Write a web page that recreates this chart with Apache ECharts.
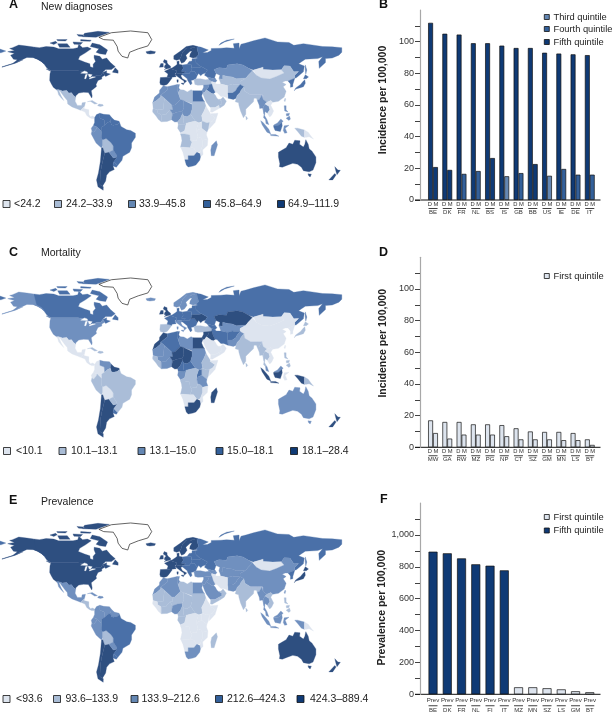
<!DOCTYPE html>
<html><head><meta charset="utf-8">
<style>html,body{margin:0;padding:0;background:#fff}#c{width:613px;height:715px}</style>
<script src="https://cdn.jsdelivr.net/npm/echarts@6/dist/echarts.min.js"></script>
</head><body><div id="c"></div>
<script>
// ---------- bar data ----------
const codesB = ['BE','DK','FR','NL','BS','IS','GB','BB','US','IE','DE','IT'];
const incidenceB = [111.9,105,104.5,99,99,97.5,96,96,93,92.5,92,91.5];
const mortalityB = [20.8,19,16.5,18.3,26.5,15,17,22.7,15.3,19.6,16,16];
const mortalityQuintileB = [5,5,4,4,5,3,4,5,3,4,4,4];
const codesD = ['MW','GA','RW','MZ','PG','NP','CT','SZ','GM','MN','LS','BT'];
const incidenceD = [17,16,16,14.5,14.5,14,12,10,9.7,9.7,9,5];
const mortalityD = [9,5.5,8,8,8,7,5,5,5,4.5,4.5,1.5];
const codesF = ['BE','DK','FR','NL','FI','IT','MZ','MN','SZ','LS','GM','BT'];
const prevalenceF = [895,885,853,816,807,778,44,44,38,31,19,13];
const prevalenceQuintileF = [5,5,5,5,5,5,1,1,1,1,1,1];
// ---------- axis ticks ----------
const ticksIncidence = [0,10,20,30,40,50,60,70,80,90,100,110];
const labelsIncidence = [0,20,40,60,80,100];
const ticksPrevalence = [0,100,200,300,400,500,600,700,800,900,1000,1100];
const labelsPrevalence = [0,200,400,600,800,1000];
// ---------- map legends ----------
const legendA = ['<24.2','24.2–33.9','33.9–45.8','45.8–64.9','64.9–111.9'];
const legendC = ['<10.1','10.1–13.1','13.1–15.0','15.0–18.1','18.1–28.4'];
const legendE = ['<93.6','93.6–133.9','133.9–212.6','212.6–424.3','424.3–889.4'];
// ---------- colours ----------
const mapColors = ['#ffffff','#dde4ef','#aabdd8','#7090bf','#4a70a8','#2e4f80'];
const keyColors = ['#ffffff','#dde4ee','#a9bcd5','#6487b3','#33609a','#0f3a75'];
// ---------- region outlines: [lon, lat] ----------
const regionShapes = {
 Canada:[[[-141,69.6],[-135,69],[-128,70],[-120,69.5],[-115,68],[-108,68],[-100,68],[-95,69],[-94,72],[-90,69],[-85,69.5],[-81,68],[-87,64.5],[-93,61.5],[-94.5,58.8],[-88,56.5],[-82.5,55],[-82,52.5],[-79,51.5],[-79,54.5],[-76.5,57],[-78,60],[-78,62.4],[-72,61.5],[-69.5,59],[-65,60],[-61,56],[-56,52.5],[-60,50],[-66,50],[-70,47],[-65,49],[-65,47],[-61,46],[-66,44],[-67,45],[-69,47.3],[-71,45],[-75,45],[-79,43.5],[-83,42],[-82.5,45.5],[-88,48],[-95,49],[-123,49],[-127,51],[-130,54.5],[-133,57],[-137,59],[-141,60.3]]],
 CanadaArctic:[[[-80,73],[-72,71.5],[-64,67],[-66,63],[-72,63.7],[-76,65],[-73,68],[-82,70]],[[-116,72.5],[-106,72.5],[-103,69.3],[-114,69.3]],[[-124,73],[-118,74.5],[-116.5,73.2],[-120,71.8]],[[-117,76],[-106,76],[-108,74.8],[-116,75]],[[-92,76],[-81,75.5],[-82,74.5],[-92,74.7]],[[-100,74],[-90,73.5],[-92,71.8],[-99,72]],[[-90,78.5],[-76,78],[-62,82.3],[-74,83.2],[-88,81.5]],[[-96,80.5],[-88,80],[-90,78.8],[-94,79]],[[-59,47.7],[-53,46.8],[-53,49],[-56,51.5]],[[-128,50.5],[-123.5,48.5],[-125,50]]],
 USA:[[[-123,49],[-95,49],[-88,48],[-82.5,45.5],[-83,42],[-79,43.5],[-75,45],[-71,45],[-69,47.3],[-67,45],[-70,43.5],[-70,41.7],[-74,40.5],[-76,37],[-75.5,35.3],[-81,31.5],[-80,27],[-80.5,25.2],[-82.5,28],[-84,30],[-89,30.2],[-94,29.5],[-97.3,27],[-97.2,25.9],[-99.5,27.5],[-101.5,29.8],[-104.5,29.5],[-106.5,31.8],[-111,31.3],[-114.8,32.5],[-117.2,32.5],[-120.5,34.5],[-122.5,37.5],[-124.3,40.5],[-124,46]]],
 Alaska:[[[-141,69.6],[-148,70.4],[-156.5,71.3],[-163,69],[-166,68.3],[-161,66.5],[-168,65.5],[-161,64],[-165,62.5],[-162,59],[-158,58.5],[-163,55],[-152,59],[-148,60.5],[-141,60.3],[-137,59],[-133,57],[-130,55],[-133,58],[-138,60]],[[-174,52],[-160,55.5],[-152,58.5],[-152,58.9],[-160,56],[-174,52.3]]],
 Greenland:[[[-73,78],[-60,82],[-40,83.5],[-22,82],[-18,76],[-22,70.5],[-32,68],[-41,65],[-43,60],[-49,61.5],[-53,66],[-54,70],[-58,75.5],[-68,76]]],
 Mexico:[[[-117.2,32.5],[-114.8,32.5],[-111,31.3],[-106.5,31.8],[-104.5,29.5],[-101.5,29.8],[-99.5,27.5],[-97.2,25.9],[-97.8,22.5],[-95.5,18.8],[-91,18.7],[-90.5,21],[-87,21.5],[-88,18],[-92,14.6],[-96,15.8],[-101,17.5],[-105.5,20],[-106,23],[-109,26],[-112.5,30],[-113.5,31.2],[-114.7,31.5],[-112,26.5],[-109.5,23],[-112,25],[-115,28],[-116,31]]],
 CentralAmerica:[[[-92,14.6],[-88,18],[-88.5,16],[-83.5,15],[-83.5,11],[-82,9],[-79.5,9.5],[-77.3,8.5],[-78,7.3],[-80.5,7.3],[-83,8.3],[-85.7,10],[-87.5,13]]],
 Caribbean:[[[-85,22],[-80,23],[-74.5,20.3],[-77.5,19.9],[-78,20.7],[-82,22.4]],[[-74.4,18.5],[-73,20],[-69,19.5],[-68.4,18.5],[-71.5,17.8]]],
 Colombia:[[[-77.3,8.5],[-75.5,10.8],[-72,12],[-72,7.5],[-67.5,6],[-67,1.5],[-70,0],[-70,-4.2],[-75,0],[-78.8,1.4],[-77.5,4],[-77.5,7]]],
 Venezuela:[[[-72,12],[-68,11],[-62,10.7],[-60,8.5],[-61,5],[-64,4],[-67,1.5],[-67.5,6],[-72,7.5]]],
 Guianas:[[[-60,8.5],[-57,6],[-52,5],[-51.5,4],[-54,2.2],[-58,1.5],[-60,2],[-61,5]]],
 Ecuador:[[[-78.8,1.4],[-75,0],[-75.5,-1.5],[-78.5,-4.5],[-80.3,-3.4],[-81,-1]]],
 Peru:[[[-75,0],[-70,-4.2],[-70.5,-9.5],[-69,-11],[-69,-16],[-70.3,-18.3],[-76,-14],[-81,-6],[-80.3,-3.4],[-78.5,-4.5],[-75.5,-1.5]]],
 Bolivia:[[[-69,-11],[-65.5,-10],[-60.5,-13.5],[-58,-16.5],[-58,-20],[-62.5,-22],[-67,-22.8],[-69,-18],[-69,-16]]],
 Chile:[[[-70.3,-18.3],[-69,-18],[-67,-22.8],[-70,-33],[-71.5,-40],[-72,-50],[-68.5,-52.3],[-68.5,-55],[-74,-52],[-75.5,-46],[-73.5,-40],[-71.5,-30]]],
 Argentina:[[[-67,-22.8],[-62.5,-22],[-58,-27],[-54,-26],[-58,-31],[-58.4,-34],[-57,-37],[-62,-39],[-65,-42],[-66,-47],[-69,-51],[-68.5,-52.3],[-72,-50],[-71.5,-40],[-70,-33]]],
 Paraguay:[[[-62.5,-22],[-58,-20],[-55,-24],[-54,-26],[-58,-27]]],
 Uruguay:[[[-58,-31],[-57.5,-30],[-53.5,-33.5],[-54.8,-35],[-58.4,-34]]],
 Brazil:[[[-70,0],[-67,1.5],[-64,4],[-61,5],[-60,2],[-58,1.5],[-54,2.2],[-51.5,4],[-50,0.5],[-44,-2.5],[-40,-3],[-35,-5.5],[-35,-9],[-39,-14],[-39,-18],[-41,-22],[-48,-25.5],[-49,-29],[-53.5,-33.5],[-57.5,-30],[-54,-26],[-55,-24],[-58,-20],[-58,-16.5],[-60.5,-13.5],[-65.5,-10],[-69,-11],[-70.5,-9.5],[-70,-4.2]]],
 Iceland:[[[-24,65.5],[-19,66.3],[-14,65.5],[-15,64],[-20,63.4],[-23,64]]],
 Iberia:[[[-9,43],[-2,43.3],[3,42.3],[0,39],[-2,37],[-5.5,36],[-9,37],[-9.5,39]]],
 France:[[[-2,43.3],[-1,46],[-4.7,48.5],[1.5,50.9],[4,50],[8.2,49],[7.5,47.5],[6,46],[7.5,43.8],[3,43.3],[3,42.3]]],
 WesternEurope:[[[1.5,50.9],[3.5,51.5],[7,53.5],[8.5,54.5],[8.2,57],[10.5,57.5],[10.5,54.5],[14,54],[14.8,51],[13,48.5],[17,48.5],[16.2,46.8],[13.5,46.5],[10,46.5],[7,46],[6,46],[7.5,47.5],[8.2,49],[4,50]]],
 Italy:[[[7,46],[10,46.5],[13.5,46.5],[13.5,45.5],[12.3,44.5],[14,42],[18.5,40],[16,38],[15.5,40],[12,42],[8.5,44.2],[7.5,43.8],[6,46]],[[12.5,38],[15.5,38.2],[15,36.7]],[[8.2,41],[9.7,41],[9.5,39],[8.4,39]]],
 UK:[[[-5,50],[1.5,51.3],[1.7,52.8],[-1,54.5],[-2,56],[-2,57.7],[-5,58.6],[-6,56.5],[-3,54.8],[-4.5,53.3],[-5,51.8],[-3,51.4]]],
 Ireland:[[[-10,52],[-6,52.2],[-6,55.2],[-8.5,55.2]]],
 Norway:[[[5,59],[8,58],[11,59],[12.5,61],[14,65],[18,68.5],[25,69],[30,70],[25,71],[18,70],[12,66],[5,62]]],
 Sweden:[[[11,59],[13,55.5],[16,56.5],[18.8,59.8],[17.5,62.5],[22,65.8],[24,66],[24,68],[20.5,69],[18,68.5],[14,65],[12.5,61]]],
 Finland:[[[24,66],[22,63.5],[21.5,61],[25,60],[28,60.5],[31,63],[29.5,67],[29,70],[25,69],[20.5,69],[24,68]]],
 EasternEurope:[[[14,54],[19,54.5],[23,54.3],[24,50.5],[22.5,48],[21,46.5],[16.2,46.8],[17,48.5],[13,48.5],[14.8,51]]],
 Balkans:[[[13.5,45.5],[13.5,46.5],[16.2,46.8],[21,46.5],[22.5,48],[26.5,48.2],[29.5,45],[28,42],[26,41],[23,40.5],[24,38],[22.5,36.5],[19.5,40.5],[19,42],[14.5,45]]],
 BalticBelarus:[[[19,54.5],[21,57],[24,57.5],[24,59.4],[28,59.5],[28,56],[32,53],[34,52.3],[31,51.5],[24,51.5],[23,54.3]]],
 Ukraine:[[[24,50.5],[24,51.5],[31,51.5],[34,52.3],[40,49.6],[38,47],[35,46],[33,44.5],[31,46.5],[29.5,45],[26.5,48.2],[22.5,48]]],
 Russia:[[[28,59.5],[30,60],[28,60.5],[31,63],[29.5,67],[29,70],[33,69.5],[41,67],[35,64.5],[40,64.8],[44,66.5],[44,68.3],[54,68.5],[60,69],[68,68.5],[67,72.5],[73,73],[73,68],[75,72],[80,73],[88,75],[100,77.5],[113,74],[125,73.5],[130,71],[140,72.5],[160,70],[170,69.7],[180,69],[180,65],[177,62.5],[170,60],[163,59.5],[163,56],[156.5,51],[156,57],[160,61],[155,59.5],[142,59],[135,55],[141,53],[140,48],[133,43],[131,42.5],[131,45],[135,48.3],[130,48],[126,53],[120,53.3],[117,49.7],[108,49.5],[98,50],[98,52],[88,49.5],[87,49],[83,51],[77,54],[71,55],[61,54],[60,51],[52,51.5],[47,50],[49,46.5],[47.5,43],[48.5,41.8],[44,42.7],[40,43.5],[37,45],[38,47],[40,49.6],[34,52.3],[32,53],[28,56]],[[-180,69],[-170,66],[-175,64.5],[-180,65]],[[142,54],[143.5,49.5],[142.5,46],[142,50]],[[52,71],[58,74],[68,76.5],[60,75.5],[54,73]]],
 Kazakhstan:[[[47,50],[52,51.5],[60,51],[61,54],[71,55],[77,54],[83,51],[87,49],[82.5,45],[80,42.5],[70,42],[66,43.5],[61,44],[56,45],[56,41.5],[52,42],[53,45],[49,46.5]]],
 CentralAsia:[[[52,42],[56,41.5],[56,45],[61,44],[66,43.5],[70,42],[80,42.5],[74,39.5],[74,37],[68,37],[66,37.5],[61,36],[54,37.3],[53,40]]],
 Mongolia:[[[88,49.5],[98,52],[98,50],[108,49.5],[117,49.7],[120,47],[112,44],[105,41.7],[96,42.7],[91,45]]],
 China:[[[87,49],[88,49.5],[91,45],[96,42.7],[105,41.7],[112,44],[120,47],[117,49.7],[120,53.3],[126,53],[130,48],[135,48.3],[131,45],[131,42.5],[124,40],[121,40],[118,39],[122,37],[119,35],[122,31],[120,26],[114,22.3],[108,21.5],[106,23],[102,21.5],[98,24],[98,28],[92,28],[85,28],[79,31],[78,35],[74,37],[74,39.5],[80,42.5],[82.5,45]],[[120,23],[121,25.2],[121.5,24],[120.8,22]]],
 Korea:[[[124,40],[131,42.5],[129,37],[129,35],[126.5,34.5],[126.5,37.5]]],
 Japan:[[[130.5,31.5],[132,34],[137,37],[140,40],[141.5,41],[142,38],[140,35],[136,34],[132,33]],[[140,42],[142,45.5],[145.3,43.5],[143,42]]],
 Afghanistan:[[[61,36],[66,37.5],[68,37],[74,37],[71,34],[69.5,31.5],[66,29.5],[61,29.5]]],
 Pakistan:[[[61,29.5],[66,29.5],[69.5,31.5],[71,34],[74,37],[78,35],[75,32],[74,30],[71,27.5],[70,25],[67,24],[61.5,25]]],
 India:[[[78,35],[79,31],[85,28],[92,28],[97,28],[94,24],[92,23],[91,25],[88.5,25],[88,22],[85,19.5],[80,15.5],[80,11],[77.5,8],[74.5,14],[72.8,19],[72.5,21],[69,22],[70,25],[71,27.5],[74,30],[75,32]],[[80,9.5],[82,7.5],[80.5,6]]],
 Myanmar:[[[92,23],[94,24],[97,28],[98,28],[98,24],[102,21.5],[100,20],[98,17],[99,11],[97.5,16.5],[94.5,16],[94,19]]],
 Thailand:[[[100,20],[104,18],[105,15],[102.5,12],[100,13.5],[99.5,10],[102,6.5],[100.5,6.5],[98.5,8],[99,11],[98,17]]],
 Indochina:[[[102,21.5],[106,23],[108,21.5],[106,19],[109,14],[107,10.5],[105,8.7],[103,11],[102.5,12],[105,15],[104,18],[100,20]]],
 Malaysia:[[[100.5,6.5],[102,6.5],[104,2],[101,3]],[[109.5,2],[113,3.5],[116.5,7],[119,5],[117.5,4],[114,1.5]]],
 Sumatra:[[[95.5,5.5],[98,4],[104,-2],[106,-6],[102,-4.5],[97,2]],[[105.5,-6.5],[111,-6.5],[114.5,-8],[106,-7.5]]],
 Kalimantan:[[[109,1.5],[114,1.5],[117.5,4],[118,1],[116,-4],[110.5,-3],[109,0]]],
 Sulawesi:[[[120,1],[125,1.5],[121,-1],[123,-5],[120.5,-5.5],[119,-3]]],
 WestPapua:[[[131,-1],[134,-1],[138,-2],[141,-2.6],[141,-9],[138,-8],[134,-4]]],
 PNG:[[[141,-2.6],[145,-4.5],[148,-8],[150.5,-10.5],[146,-8.5],[143,-9],[141,-9]]],
 Philippines:[[[120,18.5],[122,18.5],[122,15],[124,13],[120.5,14]],[[122,7.5],[125.5,9.5],[126.5,7],[125,5.7]],[[122,11.5],[125.5,12],[125,10],[122.5,9.5]]],
 Turkey:[[[26,41],[28,42],[33,42],[38,41],[41.5,41.5],[44,40],[44.5,37.5],[36,36.5],[30,36.3],[27,37]]],
 Caucasus:[[[40,43.5],[44,42.7],[48.5,41.8],[50,40.3],[48,38.7],[44.5,39.5],[44,40],[41.5,41.5]]],
 Iran:[[[44.5,39.5],[48,38.7],[49,37.5],[54,37.3],[61,36],[61,29.5],[61.5,25],[57,26.5],[54,26.5],[50,30],[48,30.3],[46,33.5],[44.5,37.5]]],
 Iraq:[[[44.5,37.5],[46,33.5],[48,30.3],[46.5,29],[44.5,29.2],[39,32.3],[41,34.5],[42,37]]],
 Levant:[[[36,36.5],[42,37],[41,34.5],[39,32.3],[37,30],[35,29.5],[34.3,31.5],[36,34.5]]],
 Saudi:[[[35,29.5],[37,30],[39,32.3],[44.5,29.2],[46.5,29],[48,28],[50,25],[51.5,24],[55,22.7],[55,20],[52,19],[48,17],[43.5,17],[42,18],[39,21.5],[37,25]]],
 Yemen:[[[43.5,17],[48,17],[52,19],[53,16.5],[45,12.8],[43.2,13]]],
 Oman:[[[51.5,24],[54,24.2],[56.3,26],[59.8,22.5],[57.5,19],[53,16.5],[52,19],[55,20],[55,22.7]]],
 Morocco:[[[-6,35.8],[-2,35],[-1.5,32.5],[-8.7,27.7],[-8.7,26],[-13,23],[-17,21],[-15,26],[-10,29.5],[-9.8,32]]],
 Algeria:[[[-2,35],[8.5,37],[8.5,32.5],[9.5,30],[12,24],[6,19.2],[3,19],[-4.8,25],[-8.7,27.7],[-1.5,32.5]]],
 Tunisia:[[[8.5,37],[11,37],[10.2,34],[11.5,32.5],[9.5,30],[8.5,32.5]]],
 Libya:[[[11.5,32.5],[15.5,32.2],[19,30.5],[23,32.5],[25,31.6],[25,22],[25,20],[24,19.5],[15,23],[12,24],[9.5,30]]],
 Egypt:[[[25,31.6],[31,31.5],[34.3,31.5],[35,29.5],[34,27],[35.5,24],[37,22],[25,22]]],
 Mauritania:[[[-17,21],[-13,23],[-8.7,26],[-8.7,27.7],[-4.8,25],[-6,15.5],[-12,15],[-16.5,16]]],
 Mali:[[[-4.8,25],[3,19],[4,15],[1,15],[-3,11],[-8,10.5],[-12,12.5],[-12,15],[-6,15.5]]],
 Senegal:[[[-16.5,16],[-12,15],[-12,12.5],[-8,10.5],[-8,4.5],[-11,6.5],[-13.5,9.5],[-17,13],[-17,14.7]]],
 GuineaCoast:[[[-8,10.5],[-3,11],[1,15],[3.7,11.5],[2.7,6.3],[-2,4.8],[-8,4.5]]],
 Niger:[[[3,19],[6,19.2],[12,24],[15,23],[15.5,16.5],[13.5,13.5],[9,13],[3.7,11.5],[1,15],[4,15]]],
 Nigeria:[[[3.7,11.5],[9,13],[13.5,13.5],[14,11.5],[12,7.5],[9,4.5],[6,4.3],[2.7,6.3]]],
 Chad:[[[15,23],[24,19.5],[24,15.5],[22.5,11],[19,9],[15.5,9.5],[14,11.5],[13.5,13.5],[15.5,16.5]]],
 Cameroon:[[[14,11.5],[15.5,9.5],[15,5],[16,2],[13,2],[9.7,2.2],[9,4.5],[12,7.5]]],
 CAR:[[[15.5,9.5],[19,9],[22.5,11],[27.5,5],[24,4.5],[19,3.5],[16,2],[15,5]]],
 Gabon:[[[9.7,2.2],[13,2],[16,2],[18,3.5],[17,-1],[16,-3.5],[12,-5],[9,-1]]],
 Sudan:[[[24,19.5],[25,20],[25,22],[37,22],[38.5,18],[36.5,14],[34,10],[35,5],[31,3.7],[27.5,5],[22.5,11],[24,15.5]]],
 Ethiopia:[[[38.5,18],[43,12],[42.8,11],[48,8],[45,5],[42,4],[39.5,3.5],[35,5],[34,10],[36.5,14]]],
 Somalia:[[[43,11.5],[51,12],[48,4],[42,-1.5],[41,-1.7],[42,4],[45,5],[48,8],[42.8,11]]],
 Kenya:[[[35,5],[39.5,3.5],[42,4],[41,-1.7],[39.5,-4.6],[34,-1],[34,4]]],
 Uganda:[[[31,3.7],[34,4],[34,-1],[30.5,-2.5],[29,-4.4],[29,-1],[30,1.5]]],
 DRC:[[[19,3.5],[24,4.5],[27.5,5],[31,3.7],[30,1.5],[29,-1],[29,-4.4],[30,-8.5],[28.5,-12],[22,-11],[21.5,-7],[16.5,-6],[12,-6],[12,-5],[16,-3.5],[17,-1],[18,3.5]]],
 Tanzania:[[[30.5,-2.5],[34,-1],[39.5,-4.6],[39,-7],[40.5,-10.5],[35,-11.5],[33,-9.5],[30,-8.5],[29,-4.4]]],
 Angola:[[[12,-6],[16.5,-6],[21.5,-7],[22,-11],[24,-13],[22,-18],[12,-17.5],[13.5,-12],[13,-9]]],
 Zambia:[[[22,-11],[28.5,-12],[30,-8.5],[33,-9.5],[35,-11.5],[35,-16],[32.5,-21.5],[29,-22],[25.5,-18],[22,-18],[24,-13]]],
 Mozambique:[[[35,-11.5],[40.5,-10.5],[40,-16],[35,-20],[35.5,-24],[32.8,-26],[32,-23],[32.5,-21.5],[35,-16]]],
 Namibia:[[[12,-17.5],[22,-18],[25.5,-18],[29,-22],[26,-25],[20,-25],[20,-28.5],[16.5,-28.5],[14.5,-22]]],
 SouthAfrica:[[[16.5,-28.5],[20,-28.5],[20,-25],[26,-25],[29,-22],[32,-23],[32.8,-26],[32,-29],[28,-33],[25,-34],[20,-34.8],[18,-33]]],
 Madagascar:[[[49.3,-12],[50.5,-15.5],[47,-25],[44,-25],[43.5,-20],[44.5,-16]]],
 Australia:[[[114,-22],[114,-26],[115.5,-32],[115,-34.5],[118,-35],[124,-33],[129,-31.6],[134,-32.5],[138,-35],[140,-38],[146,-39],[150,-37.5],[153,-31],[153,-26],[149,-21],[146,-19],[145,-15],[142.5,-11],[141.5,-15],[140,-17.5],[136,-15],[136.5,-12],[131,-11.5],[129,-15],[125,-14],[122,-18],[117,-20.5]],[[144.7,-40.7],[148.3,-41],[147,-43.5],[145.5,-42.5]]],
 NewZealand:[[[172.7,-34.5],[176,-37.5],[178.5,-37.7],[175,-41.5],[174,-39]],[[172.7,-40.5],[174,-41.8],[170.5,-46],[166.5,-46],[171,-42]]],
 GreatLakes:[[[-92,46.8],[-88,48.8],[-85,47.8],[-85,46.6]],[[-88,42],[-87,45.5],[-85,46],[-86.5,42]],[[-84,46],[-80,45.5],[-82,43.2],[-83.5,44]],[[-83,41.8],[-79,42.8],[-76.5,43.5],[-76.5,44],[-80,43.7],[-82.5,42.7]]]
};
// ---------- quintile per region: [New diagnoses, Mortality, Prevalence] ----------
const regionQuintiles = {
 Canada:[5,4,5],CanadaArctic:[5,4,5],USA:[5,3,5],Alaska:[5,3,5],Greenland:[0,0,0],Mexico:[2,1,3],CentralAmerica:[1,1,2],Caribbean:[2,2,3],
 Colombia:[4,1,3],Venezuela:[4,3,3],Guianas:[4,5,3],Ecuador:[3,1,3],Peru:[3,2,3],Bolivia:[2,1,2],Chile:[5,5,5],Argentina:[5,5,5],Paraguay:[3,2,3],Uruguay:[4,4,4],Brazil:[4,2,4],
 Iceland:[5,3,5],Iberia:[5,2,5],France:[5,4,5],WesternEurope:[5,4,5],Italy:[5,3,5],UK:[5,5,5],Ireland:[5,5,5],Norway:[5,3,5],Sweden:[5,3,5],Finland:[5,3,5],EasternEurope:[4,4,4],Balkans:[4,4,4],BalticBelarus:[4,4,4],Ukraine:[4,5,4],
 Russia:[4,4,4],Kazakhstan:[3,5,3],CentralAsia:[2,3,3],Mongolia:[1,1,1],China:[2,1,3],Korea:[4,1,4],Japan:[4,2,5],Afghanistan:[2,4,3],Pakistan:[4,3,3],India:[2,2,2],Myanmar:[3,2,3],Thailand:[3,2,3],Indochina:[1,1,2],Malaysia:[3,3,3],
 Sumatra:[3,5,3],Kalimantan:[4,5,3],Sulawesi:[3,1,3],WestPapua:[2,5,3],PNG:[1,2,1],Philippines:[3,2,2],Turkey:[2,2,3],Caucasus:[3,4,3],Iran:[1,4,1],Iraq:[4,5,3],Levant:[3,5,3],Saudi:[2,1,3],Yemen:[1,1,2],Oman:[2,1,2],
 Morocco:[3,5,3],Algeria:[3,4,3],Tunisia:[3,4,3],Libya:[2,3,2],Egypt:[4,5,3],Mauritania:[2,3,2],Mali:[2,3,2],Senegal:[2,2,1],GuineaCoast:[2,3,2],Niger:[3,5,2],Nigeria:[3,5,3],Chad:[3,5,2],Cameroon:[2,4,2],CAR:[2,4,2],Gabon:[2,3,2],Sudan:[2,3,2],Ethiopia:[1,2,1],Somalia:[1,1,1],Kenya:[2,2,1],Uganda:[1,4,1],DRC:[1,2,1],Tanzania:[1,3,1],Angola:[2,2,1],Zambia:[1,2,1],Mozambique:[1,1,1],Namibia:[1,1,1],SouthAfrica:[4,5,3],Madagascar:[3,5,2],
 Australia:[5,3,5],NewZealand:[5,5,5],GreatLakes:[0,0,0]
};

const FONT='"Liberation Sans", Arial, sans-serif';
const geoJson={type:'FeatureCollection',features:Object.keys(regionShapes).map(name=>({type:'Feature',properties:{name},geometry:{type:'MultiPolygon',coordinates:regionShapes[name].map(r=>[r.concat([r[0]])])}}))};
const mapPanels=[{id:'A',dy:0,idx:0},{id:'C',dy:247,idx:1},{id:'E',dy:492,idx:2}];
mapPanels.forEach(p=>echarts.registerMap('world'+p.id,geoJson));
const series=[];
mapPanels.forEach(p=>{
 series.push({type:'map',map:'world'+p.id,silent:true,roam:false,aspectScale:0.835,
  boundingCoords:[[-180,90],[180,-60]],layoutCenter:[169,109.75+p.dy],layoutSize:345.6,
  label:{show:false},emphasis:{disabled:true},select:{disabled:true},
  data:Object.keys(regionShapes).map(name=>{
   const q=regionQuintiles[name][p.idx];
   const isGreen=name==='Greenland';
   return {name,value:q,itemStyle:{areaColor:mapColors[q],borderColor:isGreen?'#222':mapColors[q],borderWidth:isGreen?0.7:0.3}};
  })});
});

// ---------- bars ----------
const GRID_L=425.9,GRID_W=171;
const grids=[{left:GRID_L,width:GRID_W,top:10,height:190},{left:GRID_L,width:GRID_W,top:257.3,height:190},{left:GRID_L,width:GRID_W,top:503.1,height:191.2}];
function xAx(i,codes,top,lh1,lh2){return {type:'category',gridIndex:i,data:codes,
 axisLine:{show:false},axisTick:{show:false},
 axisLabel:{interval:0,margin:1,hideOverlap:false,fontFamily:FONT,color:'#333',
  formatter:v=>`{a|${top}}\n{u|}\n{b|${v}}`,
  rich:{a:{fontSize:top==='Prev'?6.2:5.8,lineHeight:lh1,fontFamily:FONT,color:'#333'},
        u:{width:9,height:0.8,lineHeight:1,backgroundColor:'#111'},
        b:{fontSize:6,lineHeight:lh2,fontFamily:FONT,color:'#333'}}}};}
function yAx(i,max,step,ticks,labels,name,pad,fmt){return {type:'value',gridIndex:i,min:0,max,interval:step,offset:5.9,
 splitLine:{show:false},
 axisLine:{show:true,lineStyle:{color:'#a8a8a8',width:1.2}},
 axisTick:{show:true,length:5,customValues:ticks,lineStyle:{color:'#111',width:0.8}},
 axisLabel:{margin:6,fontFamily:FONT,fontSize:9,color:'#333',customValues:labels,formatter:v=>fmt(v)},
 name,nameLocation:'middle',nameGap:31,nameRotate:90,
 nameTextStyle:{fontFamily:FONT,fontWeight:'bold',fontSize:10.5,color:'#222',padding:pad}};}
const xAxes=[xAx(0,codesB,'D M',7,7),xAx(1,codesD,'D M',7,7),xAx(2,codesF,'Prev',10,9)];
const yAxes=[
 yAx(0,120,10,ticksIncidence,labelsIncidence,'Incidence per 100,000',[0,0,0,10],String),
 yAx(1,120,10,ticksIncidence,labelsIncidence,'Incidence per 100,000',[0,0,0,18],String),
 yAx(2,1200,100,ticksPrevalence,labelsPrevalence,'Prevalence per 100,000',[0,18,0,0],v=>v.toLocaleString('en-US'))];
const edge={borderColor:'#111',borderWidth:0.7};
const barStyle=c=>Object.assign({color:c},edge);
series.push({type:'bar',name:'D',xAxisIndex:0,yAxisIndex:0,barWidth:4.9,barGap:0,silent:true,data:incidenceB.map(v=>({value:v,itemStyle:barStyle(keyColors[5])}))});
series.push({type:'bar',name:'M',xAxisIndex:0,yAxisIndex:0,barWidth:4.9,barGap:0,silent:true,data:mortalityB.map((v,i)=>({value:v,itemStyle:barStyle(keyColors[mortalityQuintileB[i]])}))});
series.push({type:'bar',name:'D',xAxisIndex:1,yAxisIndex:1,barWidth:4.9,barGap:0,silent:true,itemStyle:barStyle(keyColors[1]),data:incidenceD});
series.push({type:'bar',name:'M',xAxisIndex:1,yAxisIndex:1,barWidth:4.9,barGap:0,silent:true,itemStyle:barStyle(keyColors[1]),data:mortalityD});
series.push({type:'bar',name:'Prev',xAxisIndex:2,yAxisIndex:2,barWidth:9,silent:true,data:prevalenceF.map((v,i)=>({value:v,itemStyle:barStyle(keyColors[prevalenceQuintileF[i]])}))});

// ---------- text, keys, baselines ----------
const graphic=[];
const txt=(x,y,t,fs,w,c)=>graphic.push({type:'text',x,y,silent:true,style:{text:t,font:`${w||'normal'} ${fs}px ${FONT}`,fill:c||'#222',verticalAlign:'middle'}});
const sq=(x,y,s,c)=>graphic.push({type:'rect',silent:true,shape:{x,y,width:s,height:s},style:{fill:c,stroke:'#111',lineWidth:0.8}});
[['A',9,5],['B',379,5],['C',9,252.7],['D',379,252.7],['E',9,500.7],['F',380,500]].forEach(a=>txt(a[1],a[2],a[0],12.5,'bold','#111'));
txt(41,7,'New diagnoses',10.5);txt(41,253,'Mortality',10.5);txt(41,502,'Prevalence',10.5);
const keyPos=[
 {labels:legendA,y:204,sq:[3,54.5,128.5,203.5,277.5],tx:[14,66,139,215,288]},
 {labels:legendC,y:451,sq:[3.5,59,138,216,290.5],tx:[16,71,149.5,227,302]},
 {labels:legendE,y:699,sq:[3,53.5,131,215.5,297],tx:[16,65.5,141.5,227,310]}];
keyPos.forEach(k=>k.labels.forEach((l,i)=>{sq(k.sq[i],k.y-3.5,7,keyColors[i+1]);txt(k.tx[i],k.y,l,10.5);}));
[['Third quintile',3,17],['Fourth quintile',4,29],['Fifth quintile',5,42],['First quintile',1,276],['First quintile',1,517],['Fifth quintile',5,530.5]].forEach(r=>{sq(544.3,r[2]-2.5,5,keyColors[r[1]]);txt(553.5,r[2],r[0],9.3);});
[200,447.3,694.3].forEach(y=>graphic.push({type:'line',silent:true,shape:{x1:415,y1:y,x2:600.5,y2:y},style:{stroke:'#111',lineWidth:1}}));

const chart=echarts.init(document.getElementById('c'),null,{renderer:'canvas'});
chart.setOption({animation:false,backgroundColor:'#fff',tooltip:{show:false},grid:grids,xAxis:xAxes,yAxis:yAxes,series,graphic});
</script></body></html>
